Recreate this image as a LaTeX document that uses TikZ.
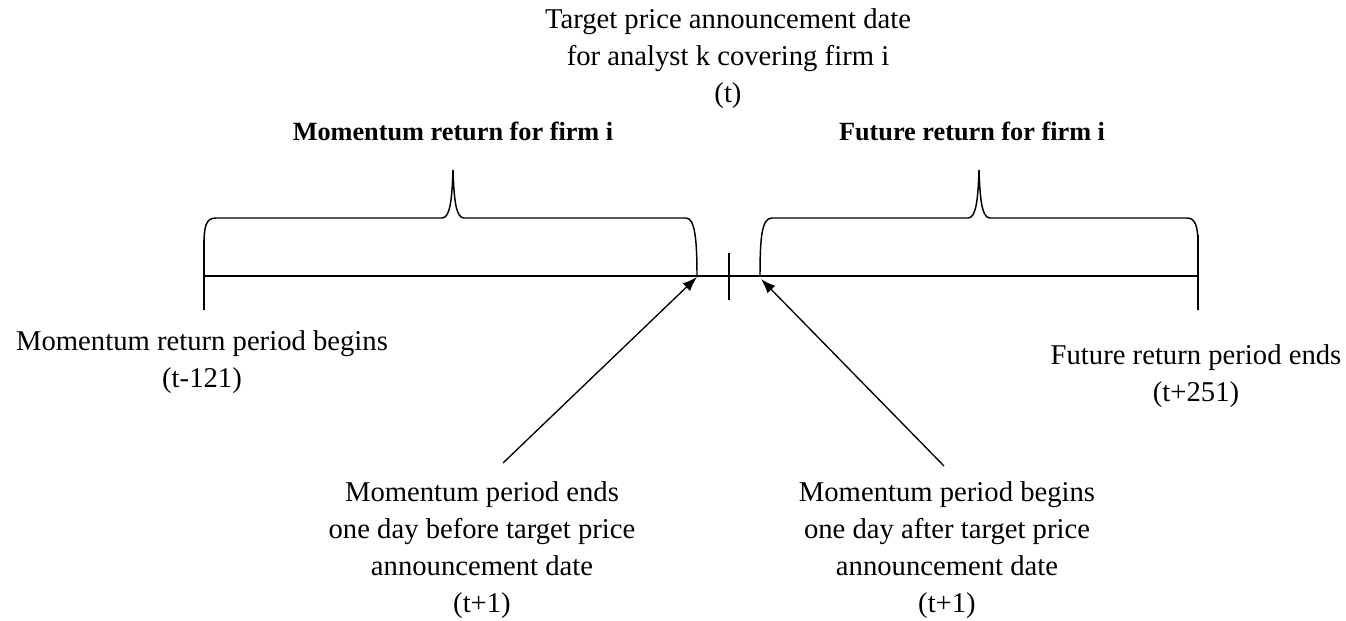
\documentclass[tikz,border=0pt]{standalone}
\usepackage{fontspec}
\setmainfont{Liberation Serif}
\usepackage{tikz}
\usetikzlibrary{arrows.meta}

\begin{document}
\begin{tikzpicture}[x=0.75pt,y=-0.75pt,line width=1.1pt,
    lbl/.style={align=center,font=\fontsize{21.5}{27.75}\selectfont},
    hd/.style={font=\fontsize{19.7}{27.75}\selectfont\bfseries}]
    \useasboundingbox (0,0) rectangle (1346,621);

    \coordinate (L1) at (204, 276);
    \coordinate (L2) at (1198, 276);
    \coordinate (T1) at (204, 240);
    \coordinate (T2) at (204, 310);
    \coordinate (T3) at (1198, 235);
    \coordinate (T4) at (1198, 310);
    \coordinate (M1) at (729, 253);
    \coordinate (M2) at (729, 300);

    \coordinate (E1) at (697, 277);
    \coordinate (E2) at (761, 279);
    \coordinate (S1) at (503, 463);
    \coordinate (S2) at (944, 466);

    \draw (L1) -- (L2);
    \draw (T1) -- (T2);
    \draw (T3) -- (T4);
    \draw (M1) -- (M2);

    % braces
    \draw (204,245) .. controls (204,226) and (206,218) .. (216,218) -- (442,218)
        .. controls (450,218) and (452,200) .. (453,170)
        .. controls (454,200) and (456,218) .. (464,218) -- (686,218)
        .. controls (695,218) and (697,240) .. (E1);
    \draw (760,276) .. controls (760,236) and (762,218) .. (772,218) -- (968,218)
        .. controls (976,218) and (978,200) .. (979,170)
        .. controls (980,200) and (982,218) .. (990,218) -- (1187,218)
        .. controls (1196,218) and (1198,228) .. (1198,245);

    \draw[-{Latex[length=11pt,width=8pt]}, line width=1pt] (S1) -- (E1);
    \draw[-{Latex[length=11pt,width=8pt]}, line width=1pt] (S2) -- (E2);

%labels
    \node[lbl] (tdate) at (728, 59) {Target price announcement date\\for analyst k covering firm i\\(t)};
    \node[hd] (mret) at (453, 131) {Momentum return for firm i};
    \node[hd] (fret) at (972, 131) {Future return for firm i};
    \node[lbl] (mbeg) at (202, 362) {Momentum return period begins\\(t-121)};
    \node[lbl] (fend) at (1196, 376) {Future return period ends\\(t+251)};
    \node[lbl] (mend) at (482, 550) {Momentum period ends\\one day before target price\\announcement date\\(t+1)};
    \node[lbl] (fbeg) at (947, 550) {Momentum period begins\\one day after target price\\announcement date\\(t+1)};

\end{tikzpicture}
\end{document}
